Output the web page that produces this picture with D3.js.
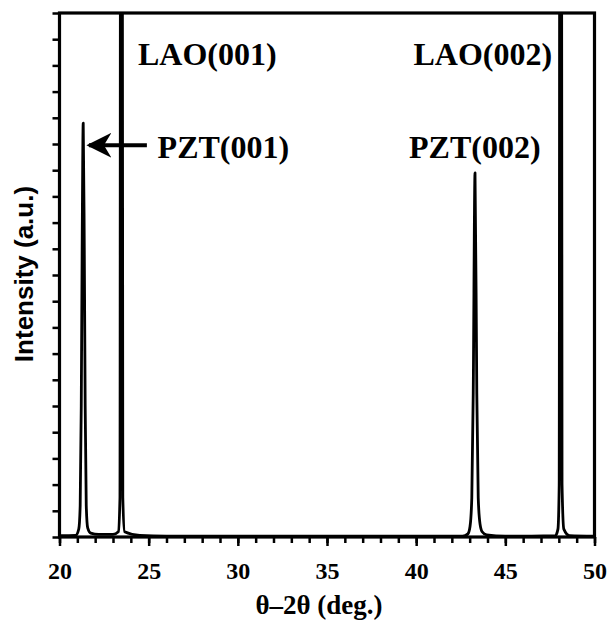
<!DOCTYPE html>
<html>
<head>
<meta charset="utf-8">
<script src="https://cdn.jsdelivr.net/npm/d3@7"></script>
<style>
  body { margin: 0; background: #fff; }
  svg text { fill: #000; }
</style>
</head>
<body>
<div id="chart"></div>
<script>
// scan values (intensity in tick units, 20 ticks full scale)
const twoTheta = [
  20.0, 20.9, 21.08, 21.16, 21.22, 21.27, 21.33, 21.39, 21.44, 21.5, 21.58, 21.75, 22.2, 23.0,
  23.3, 23.39, 23.435, 23.505, 23.55, 23.65, 24.5, 26.0,
  42.6, 42.9, 43.02, 43.12, 43.2, 43.3, 43.4, 43.48, 43.58, 43.7, 43.95, 45.0,
  47.8, 47.95, 48.02, 48.065, 48.135, 48.18, 48.28, 48.6, 50.0
];
const intensity = [
  0.05, 0.06, 0.3, 1.2, 5.0, 11.0, 15.8, 11.0, 5.0, 1.2, 0.35, 0.15, 0.1, 0.1,
  0.2, 1.5, 40, 40, 1.5, 0.2, 0.06, 0.03,
  0.03, 0.12, 0.4, 1.5, 5.5, 13.9, 5.5, 1.5, 0.5, 0.2, 0.08, 0.03,
  0.05, 0.3, 2.0, 40, 40, 2.0, 0.3, 0.05, 0.03
];

const majorTicks = [20, 25, 30, 35, 40, 45, 50];
const minorTicks = d3.range(20, 51, 1);
const yTicks = d3.range(0, 21, 1);

const labels = ['LAO(001)', 'PZT(001)', 'LAO(002)', 'PZT(002)'];
const labelX = [24.4, 25.5, 39.85, 39.6];
const labelY = [18.0, 14.45, 18.0, 14.45];

// arrow from PZT(001) label to its peak
const arrowFrom = [24.9, 14.95];
const arrowTo = [21.65, 14.95];

const width = 607;
const height = 631;
const margin = { top: 13, right: 12.5, bottom: 94, left: 59.5 };
const innerW = width - margin.left - margin.right;
const innerH = height - margin.top - margin.bottom;

const svg = d3.select('#chart')
  .append('svg')
  .attr('width', width)
  .attr('height', height);

const g = svg.append('g')
  .attr('transform', `translate(${margin.left},${margin.top})`);

const x = d3.scaleLinear().domain([20, 50]).range([0, innerW]);
const y = d3.scaleLinear().domain([0, 20]).range([innerH, 0]);

const serif = '"Liberation Serif", "Times New Roman", Times, serif';
const sans = '"Liberation Sans", Arial, Helvetica, sans-serif';

g.append('clipPath').attr('id', 'plotClip')
  .append('rect')
  .attr('width', innerW)
  .attr('height', innerH);

// minor x ticks
g.append('g')
  .attr('class', 'x-minor')
  .attr('transform', `translate(0,${innerH})`)
  .call(d3.axisBottom(x).tickValues(minorTicks).tickSize(6).tickSizeOuter(0).tickFormat(''))
  .call(a => a.select('.domain').remove());

// major x ticks with labels
g.append('g')
  .attr('class', 'x-major')
  .attr('transform', `translate(0,${innerH})`)
  .call(d3.axisBottom(x).tickValues(majorTicks).tickSize(9).tickSizeOuter(0).tickPadding(16).tickFormat(d3.format('d')))
  .call(a => a.select('.domain').remove())
  .call(a => a.selectAll('text')
    .style('font-family', serif)
    .style('font-weight', 'bold')
    .style('font-size', '24px'));

g.append('g')
  .attr('class', 'y-axis')
  .call(d3.axisLeft(y).tickValues(yTicks).tickSize(7).tickSizeOuter(0).tickFormat(''))
  .call(a => a.select('.domain').remove());

g.selectAll('.tick line')
  .attr('stroke', '#000')
  .attr('stroke-width', 2.5);

// the scan
const line = d3.line()
  .x((d, i) => x(twoTheta[i]))
  .y(d => y(d))
  .curve(d3.curveMonotoneX);

g.append('path')
  .datum(intensity)
  .attr('clip-path', 'url(#plotClip)')
  .attr('fill', 'none')
  .attr('stroke', '#000')
  .attr('stroke-width', 2.8)
  .attr('stroke-linejoin', 'round')
  .attr('d', line);

// frame
g.append('rect')
  .attr('width', innerW)
  .attr('height', innerH)
  .attr('fill', 'none')
  .attr('stroke', '#000')
  .attr('stroke-width', 3.2);

// peak labels
g.selectAll('.peak-label')
  .data(labels)
  .enter().append('text')
  .attr('class', 'peak-label')
  .attr('x', (d, i) => x(labelX[i]))
  .attr('y', (d, i) => y(labelY[i]))
  .style('font-family', serif)
  .style('font-weight', 'bold')
  .style('font-size', '32px')
  .text(d => d);

// arrow
svg.append('defs').append('marker')
  .attr('id', 'arrowHead')
  .attr('viewBox', '0 0 10 10')
  .attr('refX', 9)
  .attr('refY', 5)
  .attr('markerUnits', 'userSpaceOnUse')
  .attr('markerWidth', 25)
  .attr('markerHeight', 25)
  .attr('orient', 'auto')
  .append('path')
  .attr('d', 'M0,0 L10,5 L0,10 L3,5 Z')
  .attr('fill', '#000');

g.append('line')
  .attr('x1', x(arrowFrom[0]))
  .attr('y1', y(arrowFrom[1]))
  .attr('x2', x(arrowTo[0]))
  .attr('y2', y(arrowTo[1]))
  .attr('stroke', '#000')
  .attr('stroke-width', 4)
  .attr('marker-end', 'url(#arrowHead)');

// axis titles
svg.append('text')
  .attr('x', 319)
  .attr('y', 614)
  .attr('text-anchor', 'middle')
  .style('font-family', serif)
  .style('font-weight', 'bold')
  .style('font-size', '27px')
  .text('θ–2θ (deg.)');

svg.append('text')
  .attr('transform', 'translate(33,274) rotate(-90)')
  .attr('text-anchor', 'middle')
  .style('font-family', sans)
  .style('font-weight', 'bold')
  .style('font-size', '26px')
  .text('Intensity (a.u.)');
</script>
</body>
</html>
